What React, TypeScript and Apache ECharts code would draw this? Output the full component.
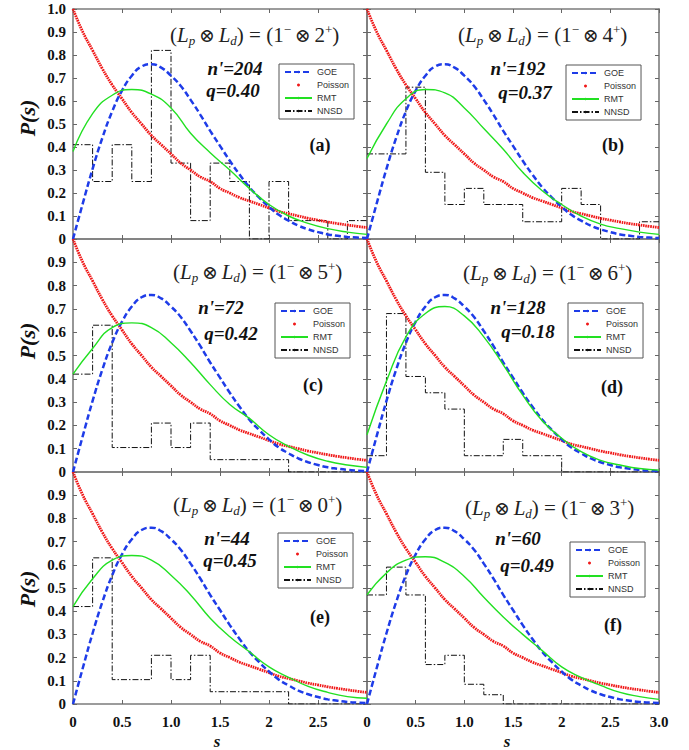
import React, { useEffect, useRef } from 'react';
import * as echarts from 'echarts';

// ---------- data ----------
const sFine = [0, 0.1, 0.2, 0.3, 0.4, 0.5, 0.6, 0.7, 0.8, 0.9, 1.0, 1.1, 1.2, 1.3, 1.4, 1.5, 1.6, 1.7, 1.8, 1.9, 2.0, 2.1, 2.2, 2.3, 2.4, 2.5, 2.6, 2.7, 2.8, 2.9, 3.0];
const sCoarse = [0, 0.2, 0.4, 0.6, 0.8, 1.0, 1.2, 1.4, 1.6, 1.8, 2.0, 2.2, 2.4, 2.6, 2.8, 3.0];

const goeValues = [0, 0.155, 0.305, 0.44, 0.555, 0.645, 0.71, 0.75, 0.76, 0.745, 0.71, 0.665, 0.605, 0.54, 0.47, 0.405, 0.34, 0.28, 0.225, 0.18, 0.14, 0.105, 0.08, 0.058, 0.042, 0.03, 0.02, 0.014, 0.009, 0.006, 0.004];
const poissonValues = [1.0, 0.9, 0.82, 0.74, 0.67, 0.61, 0.55, 0.5, 0.45, 0.41, 0.37, 0.33, 0.3, 0.27, 0.25, 0.22, 0.2, 0.18, 0.165, 0.15, 0.135, 0.12, 0.11, 0.1, 0.09, 0.082, 0.074, 0.067, 0.061, 0.055, 0.05];

const rmtA = [0.38, 0.545, 0.625, 0.65, 0.63, 0.57, 0.46, 0.375, 0.3, 0.22, 0.15, 0.1, 0.068, 0.045, 0.03, 0.02];
const rmtB = [0.35, 0.5, 0.61, 0.65, 0.635, 0.57, 0.48, 0.39, 0.29, 0.21, 0.15, 0.1, 0.065, 0.045, 0.03, 0.02];
const rmtC = [0.42, 0.53, 0.62, 0.64, 0.62, 0.555, 0.47, 0.375, 0.29, 0.23, 0.16, 0.11, 0.072, 0.046, 0.03, 0.02];
const rmtD = [0.16, 0.39, 0.58, 0.68, 0.71, 0.67, 0.58, 0.46, 0.33, 0.22, 0.145, 0.087, 0.05, 0.03, 0.015, 0.008];
const rmtE = [0.42, 0.54, 0.62, 0.64, 0.62, 0.555, 0.47, 0.37, 0.29, 0.225, 0.16, 0.115, 0.076, 0.05, 0.032, 0.025];
const rmtF = [0.47, 0.565, 0.62, 0.635, 0.61, 0.55, 0.46, 0.375, 0.3, 0.23, 0.16, 0.115, 0.08, 0.05, 0.032, 0.02];

// histogram heights for bins [0,0.2), [0.2,0.4), ... [2.8,3.0)
const nnsdA = [0.41, 0.25, 0.41, 0.25, 0.82, 0.33, 0.08, 0.33, 0.25, 0, 0.25, 0.08, 0.08, 0, 0.08];
const nnsdB = [0.37, 0.37, 0.66, 0.29, 0.15, 0.22, 0.15, 0.15, 0.075, 0.075, 0.22, 0.15, 0, 0, 0.075];
const nnsdC = [0.42, 0.63, 0.105, 0.105, 0.21, 0.105, 0.21, 0.053, 0.053, 0.053, 0.053, 0, 0, 0, 0];
const nnsdD = [0.07, 0.68, 0.41, 0.34, 0.27, 0.07, 0.07, 0.14, 0.07, 0.07, 0, 0, 0, 0, 0];
const nnsdE = [0.42, 0.63, 0.105, 0.105, 0.21, 0.105, 0.21, 0.053, 0.053, 0.053, 0.053, 0, 0, 0, 0];
const nnsdF = [0.47, 0.59, 0.47, 0.17, 0.21, 0.085, 0.04, 0, 0, 0, 0, 0, 0, 0, 0];

const panelLetters = ['(a)', '(b)', '(c)', '(d)', '(e)', '(f)'];
const ldValues = ['2', '4', '5', '6', '0', '3'];
const nPrimeValues = ['204', '192', '72', '128', '44', '60'];
const qValues = ['0.40', '0.37', '0.42', '0.18', '0.45', '0.49'];

const xTickLabels = ['0', '0.5', '1.0', '1.5', '2', '2.5', '3.0'];
const yTickLabels = ['0', '0.1', '0.2', '0.3', '0.4', '0.5', '0.6', '0.7', '0.8', '0.9', '1.0'];
const seriesNames = ['GOE', 'Poisson', 'RMT', 'NNSD'];

const rmtAll = [rmtA, rmtB, rmtC, rmtD, rmtE, rmtF];
const nnsdAll = [nnsdA, nnsdB, nnsdC, nnsdD, nnsdE, nnsdF];

// ---------- layout ----------
const colLeft = [73, 367];
const colWidth = [294, 292];
const rowTop = [9, 239, 472];
const rowHeight = [230, 233, 232];

const formulaPos = [[170, 35], [458, 35], [173, 272], [463, 273], [173, 505], [465, 508]];
const nPos = [[235, 68], [518, 68], [221, 307], [518, 307], [227, 538], [518, 538]];
const qPos = [[233, 90], [525, 92], [231, 333], [528, 331], [230, 560], [527, 565]];
const letterPos = [[320, 145], [613, 145], [313, 385], [612, 387], [320, 617], [613, 625]];
const legendPos = [[279, 64], [566, 65], [275, 303], [568, 303], [278, 533], [570, 542]];
const yNamePos = [118, 341, 589];
const xNamePos = [217, 507];

const SERIF = 'Liberation Serif';
const SANS = 'Liberation Sans';
const AXIS_COLOR = '#7c7c7c';

function buildOption() {
  const grid: any[] = [];
  const xAxis: any[] = [];
  const yAxis: any[] = [];
  const series: any[] = [];
  const legend: any[] = [];
  const graphic: any[] = [];

  const topX: any[] = [];
  const rightY: any[] = [];

  for (let i = 0; i < 6; i++) {
    const row = Math.floor(i / 2);
    const col = i % 2;
    grid.push({
      left: colLeft[col], top: rowTop[row], width: colWidth[col], height: rowHeight[row],
      show: false, containLabel: false, outerBoundsMode: 'none',
    });
    const tick = { show: true, inside: true, length: 4, lineStyle: { color: '#666', width: 1 } };
    const line = { show: true, onZero: false, lineStyle: { color: AXIS_COLOR, width: 1.6 } };
    xAxis.push({
      type: 'value', gridIndex: i, min: 0, max: 3, interval: 0.5, position: 'bottom',
      axisLine: line, axisTick: tick, splitLine: { show: false },
      axisLabel: row === 2 ? {
        show: true, margin: 10, fontFamily: SERIF, fontWeight: 'bold', fontSize: 15, color: '#111',
        showMinLabel: true, showMaxLabel: true,
        formatter: (v: number) => (col === 0 && v >= 2.99 ? '' : xTickLabels[Math.round(v / 0.5)]),
      } : { show: false },
    });
    topX.push({
      type: 'value', gridIndex: i, min: 0, max: 3, interval: 0.5, position: 'top',
      axisLine: line, axisTick: tick, splitLine: { show: false }, axisLabel: { show: false },
    });
    yAxis.push({
      type: 'value', gridIndex: i, min: 0, max: 1, interval: 0.1, position: 'left',
      axisLine: line, axisTick: tick, splitLine: { show: false },
      axisLabel: col === 0 ? {
        show: true, margin: 7, fontFamily: SERIF, fontWeight: 'bold', fontSize: 15, color: '#111',
        showMinLabel: true, showMaxLabel: true,
        formatter: (v: number) => (row > 0 && v >= 0.99 ? '' : yTickLabels[Math.round(v * 10)]),
      } : { show: false },
    });
    rightY.push({
      type: 'value', gridIndex: i, min: 0, max: 1, interval: 0.1, position: 'right',
      axisLine: line, axisTick: tick, splitLine: { show: false }, axisLabel: { show: false },
    });

    series.push({
      name: 'GOE', type: 'line', xAxisIndex: i, yAxisIndex: i, symbol: 'none', smooth: true,
      data: sFine.map((s, k) => [s, goeValues[k]]),
      lineStyle: { color: '#1e3ce8', width: 2.5, type: [6, 3] }, itemStyle: { color: '#1e3ce8' }, z: 3,
    });
    series.push({
      name: 'Poisson', type: 'line', xAxisIndex: i, yAxisIndex: i, symbol: 'none', smooth: true,
      data: sFine.map((s, k) => [s, poissonValues[k]]),
      lineStyle: { color: '#f01818', width: 2.8, type: [1.6, 0.8] }, itemStyle: { color: '#f01818' }, z: 2,
    });
    series.push({
      name: 'RMT', type: 'line', xAxisIndex: i, yAxisIndex: i, symbol: 'none', smooth: true,
      data: sCoarse.map((s, k) => [s, rmtAll[i][k]]),
      lineStyle: { color: '#22e022', width: 1.4 }, itemStyle: { color: '#22e022' }, z: 4,
    });
    const h = nnsdAll[i];
    series.push({
      name: 'NNSD', type: 'line', xAxisIndex: i, yAxisIndex: i, symbol: 'none', step: 'end',
      data: sCoarse.map((s, k) => [s, h[Math.min(k, h.length - 1)]]),
      lineStyle: { color: '#111', width: 1, type: [6, 2, 1.5, 2] }, itemStyle: { color: '#111' }, z: 1,
    });

    legend.push({
      orient: 'vertical', left: legendPos[i][0], top: legendPos[i][1],
      backgroundColor: '#fff', borderColor: '#555', borderWidth: 1, borderRadius: 0,
      padding: [3, 5, 3, 5], itemGap: 3, itemWidth: 27, itemHeight: 3,
      selectedMode: false,
      textStyle: { fontFamily: SANS, fontSize: 9, color: '#333', lineHeight: 10 },
      data: seriesNames.map((n) => (n === 'Poisson' ? { name: n, icon: 'circle' } : { name: n })),
    });

    const base = { fontFamily: SERIF, fontSize: 21, lineHeight: 24, fill: '#222' };
    graphic.push({
      type: 'text', x: formulaPos[i][0], y: formulaPos[i][1], z: 10,
      style: {
        text: `{n|(}{i|L}{s|p}{o|\u2009\u2297\u2009}{i|L}{s|d}{n|) = (1}{u|\u2212}{o|\u2009\u2297\u2009}{n|${ldValues[i]}}{u|+}{n|)}`,
        align: 'left', verticalAlign: 'middle',
        rich: {
          n: { ...base },
          i: { ...base, fontStyle: 'italic' },
          o: { fontFamily: 'DejaVu Serif', fontSize: 19, lineHeight: 24, fill: '#222' },
          s: { fontFamily: SERIF, fontSize: 13, lineHeight: 13, fill: '#222', fontStyle: 'italic', verticalAlign: 'bottom' },
          u: { fontFamily: SERIF, fontSize: 13, lineHeight: 13, fill: '#222', verticalAlign: 'top' },
        },
      },
    });
    graphic.push({
      type: 'text', x: nPos[i][0], y: nPos[i][1], z: 10,
      style: { text: `n'=${nPrimeValues[i]}`, fontFamily: SERIF, fontSize: 19, fontWeight: 'bold', fontStyle: 'italic', fill: '#111', align: 'center', verticalAlign: 'middle' },
    });
    graphic.push({
      type: 'text', x: qPos[i][0], y: qPos[i][1], z: 10,
      style: { text: `q=${qValues[i]}`, fontFamily: SERIF, fontSize: 19, fontWeight: 'bold', fontStyle: 'italic', fill: '#111', align: 'center', verticalAlign: 'middle' },
    });
    graphic.push({
      type: 'text', x: letterPos[i][0], y: letterPos[i][1], z: 10,
      style: { text: panelLetters[i], fontFamily: SERIF, fontSize: 18, fontWeight: 'bold', fill: '#111', align: 'center', verticalAlign: 'middle' },
    });
  }

  yNamePos.forEach((y) => {
    graphic.push({
      type: 'text', x: 27, y, rotation: Math.PI / 2, z: 10,
      style: { text: 'P(s)', fontFamily: SERIF, fontSize: 22, fontWeight: 'bold', fontStyle: 'italic', fill: '#111', align: 'center', verticalAlign: 'middle' },
    });
  });
  xNamePos.forEach((x) => {
    graphic.push({
      type: 'text', x, y: 741, z: 10,
      style: { text: 's', fontFamily: SERIF, fontSize: 17, fontWeight: 'bold', fontStyle: 'italic', fill: '#111', align: 'center', verticalAlign: 'middle' },
    });
  });

  return {
    animation: false,
    backgroundColor: '#ffffff',
    grid,
    xAxis: [...xAxis, ...topX],
    yAxis: [...yAxis, ...rightY],
    legend,
    series,
    graphic,
  };
}

export default function App() {
  const ref = useRef<HTMLDivElement>(null);
  useEffect(() => {
    if (!ref.current) return;
    const chart = echarts.init(ref.current, undefined, { renderer: 'svg' });
    chart.setOption(buildOption() as any);
    return () => chart.dispose();
  }, []);
  return (
    <div
      ref={ref}
      style={{ position: 'fixed', left: 0, top: 0, width: 689, height: 750, background: '#fff' }}
    />
  );
}
